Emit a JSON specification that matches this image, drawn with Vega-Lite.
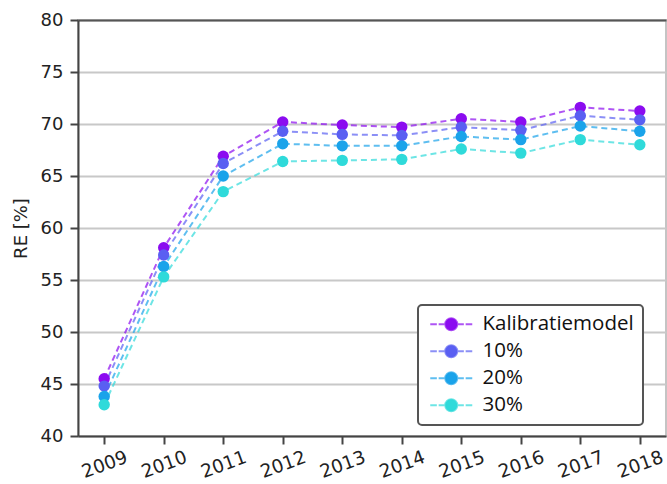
{
  "$schema": "https://vega.github.io/schema/vega-lite/v6.json",
  "width": 588,
  "height": 416,
  "autosize": {"type": "none"},
  "padding": {"left": 78, "top": 20, "right": 1, "bottom": 48},
  "background": "white",
  "config": {
    "view": {"stroke": "#c4c4c4", "strokeWidth": 2},
    "axis": {
      "labelFont": "DejaVu Sans",
      "labelFontSize": 18,
      "labelColor": "#222",
      "titleFont": "DejaVu Sans",
      "titleFontSize": 18,
      "titleFontWeight": "normal",
      "titleColor": "#222",
      "domainColor": "#444",
      "domainWidth": 2,
      "tickColor": "#444",
      "tickWidth": 2,
      "tickSize": 8
    }
  },
  "data": {
    "values": [
      {"year": "2009", "series": "Kalibratiemodel", "RE": 45.5},
      {"year": "2010", "series": "Kalibratiemodel", "RE": 58.1},
      {"year": "2011", "series": "Kalibratiemodel", "RE": 66.9},
      {"year": "2012", "series": "Kalibratiemodel", "RE": 70.2},
      {"year": "2013", "series": "Kalibratiemodel", "RE": 69.9},
      {"year": "2014", "series": "Kalibratiemodel", "RE": 69.7},
      {"year": "2015", "series": "Kalibratiemodel", "RE": 70.5},
      {"year": "2016", "series": "Kalibratiemodel", "RE": 70.2},
      {"year": "2017", "series": "Kalibratiemodel", "RE": 71.6},
      {"year": "2018", "series": "Kalibratiemodel", "RE": 71.25},
      {"year": "2009", "series": "10%", "RE": 44.8},
      {"year": "2010", "series": "10%", "RE": 57.4},
      {"year": "2011", "series": "10%", "RE": 66.2},
      {"year": "2012", "series": "10%", "RE": 69.3},
      {"year": "2013", "series": "10%", "RE": 69.0},
      {"year": "2014", "series": "10%", "RE": 68.9},
      {"year": "2015", "series": "10%", "RE": 69.7},
      {"year": "2016", "series": "10%", "RE": 69.4},
      {"year": "2017", "series": "10%", "RE": 70.8},
      {"year": "2018", "series": "10%", "RE": 70.4},
      {"year": "2009", "series": "20%", "RE": 43.8},
      {"year": "2010", "series": "20%", "RE": 56.3},
      {"year": "2011", "series": "20%", "RE": 65.0},
      {"year": "2012", "series": "20%", "RE": 68.1},
      {"year": "2013", "series": "20%", "RE": 67.9},
      {"year": "2014", "series": "20%", "RE": 67.9},
      {"year": "2015", "series": "20%", "RE": 68.8},
      {"year": "2016", "series": "20%", "RE": 68.5},
      {"year": "2017", "series": "20%", "RE": 69.8},
      {"year": "2018", "series": "20%", "RE": 69.3},
      {"year": "2009", "series": "30%", "RE": 43.0},
      {"year": "2010", "series": "30%", "RE": 55.3},
      {"year": "2011", "series": "30%", "RE": 63.5},
      {"year": "2012", "series": "30%", "RE": 66.4},
      {"year": "2013", "series": "30%", "RE": 66.5},
      {"year": "2014", "series": "30%", "RE": 66.6},
      {"year": "2015", "series": "30%", "RE": 67.6},
      {"year": "2016", "series": "30%", "RE": 67.2},
      {"year": "2017", "series": "30%", "RE": 68.5},
      {"year": "2018", "series": "30%", "RE": 68.0}
    ]
  },
  "encoding": {
    "y": {
      "field": "RE",
      "type": "quantitative",
      "scale": {"domain": [40, 80], "nice": false, "zero": false},
      "axis": {
        "title": "RE [%]",
        "values": [40, 45, 50, 55, 60, 65, 70, 75, 80],
        "grid": true,
        "gridColor": "#c8c8c8",
        "gridWidth": 2,
        "labelPadding": 7,
        "titlePadding": 10
      }
    },
    "color": {
      "field": "series",
      "type": "nominal",
      "sort": ["Kalibratiemodel", "10%", "20%", "30%"],
      "scale": {
        "domain": ["Kalibratiemodel", "10%", "20%", "30%"],
        "range": ["#8b0cf0", "#5a5ff2", "#1aa3ea", "#2fdada"]
      },
      "legend": {
        "orient": "none",
        "legendX": 340,
        "legendY": 285,
        "title": null,
        "symbolType": "M-3.5,0H-2.4M-2.1,0H-1.15M1.15,0H2.1M2.4,0H3.5M-1,0A1,1 0 1,1 1,0A1,1 0 1,1 -1,0Z",
        "symbolSize": 144,
        "symbolStrokeWidth": 2,
        "symbolOpacity": 1,
        "symbolOffset": 14,
        "labelOffset": 21,
        "labelFont": "Open Sans",
        "labelFontSize": 20.5,
        "labelColor": "#111",
        "padding": 9,
        "rowPadding": 6,
        "fillColor": "white",
        "strokeColor": "#555",
        "cornerRadius": 4,
        "encode": {
          "legend": {"update": {"strokeWidth": {"value": 2}}},
          "symbols": {"update": {"strokeOpacity": {"value": 0.7}, "fillOpacity": {"value": 1}}}
        }
      }
    }
  },
  "layer": [
    {
      "mark": {"type": "line", "strokeDash": [6, 4], "strokeWidth": 2, "opacity": 0.7},
      "encoding": {
        "x": {
          "field": "year",
          "type": "ordinal",
          "scale": {"type": "point", "padding": 0.44},
          "axis": {
            "orient": "bottom",
            "title": null,
            "labelAngle": -20,
            "labelAlign": "center",
            "labelBaseline": "middle",
            "labelPadding": 20,
            "labelFontSize": 18.5,
            "grid": false
          }
        }
      }
    },
    {
      "mark": {"type": "point", "filled": true, "size": 130, "opacity": 1},
      "encoding": {
        "x": {
          "field": "year",
          "type": "ordinal",
          "scale": {"type": "point", "padding": 0.44},
          "axis": {
            "orient": "top",
            "title": null,
            "labels": false,
            "ticks": false,
            "grid": false,
            "domainColor": "#555"
          }
        }
      }
    }
  ],
  "resolve": {"axis": {"x": "independent"}}
}
